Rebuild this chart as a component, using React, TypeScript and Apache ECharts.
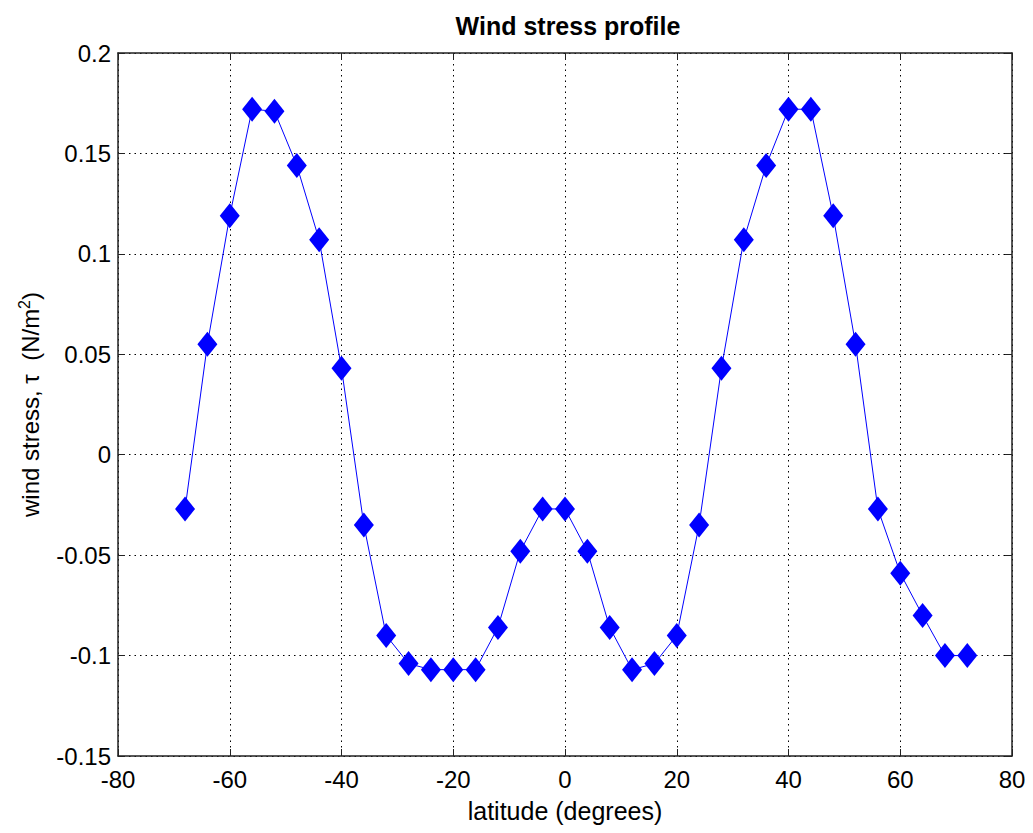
import React, { useEffect, useRef } from "react";
import * as echarts from "echarts";

const latitudes = [-68, -64, -60, -56, -52, -48, -44, -40, -36, -32, -28, -24, -20, -16, -12, -8, -4, 0, 4, 8, 12, 16, 20, 24, 28, 32, 36, 40, 44, 48, 52, 56, 60, 64, 68, 72];
const stress = [-0.027, 0.055, 0.119, 0.172, 0.171, 0.144, 0.107, 0.043, -0.035, -0.090, -0.104, -0.107, -0.107, -0.107, -0.086, -0.048, -0.027, -0.027, -0.048, -0.086, -0.107, -0.104, -0.090, -0.035, 0.043, 0.107, 0.144, 0.172, 0.172, 0.119, 0.055, -0.027, -0.059, -0.080, -0.100, -0.100];

const FONT = "Liberation Sans, Arial, Helvetica, sans-serif";

export default function App() {
  const ref = useRef<HTMLDivElement>(null);
  useEffect(() => {
    if (!ref.current) return;
    const chart = echarts.init(ref.current, undefined, { renderer: "svg" });
    const axisLine = { show: true, onZero: false, lineStyle: { color: "#222", width: 1.5 } };
    const tick = { show: true, inside: true, length: 7, lineStyle: { color: "#222" } };
    const grid = { show: true, lineStyle: { type: [1.5, 4], color: "#000", width: 1 } };
    chart.setOption({
      animation: false,
      backgroundColor: "#fff",
      title: {
        text: "Wind stress profile",
        left: 563,
        textAlign: "center",
        top: 8,
        textStyle: { fontFamily: FONT, fontSize: 25, fontWeight: "bold", color: "#000" },
      },
      grid: { left: 118, right: 21, top: 53, bottom: 77, containLabel: false },
      xAxis: [
        {
          type: "value",
          min: -80,
          max: 80,
          interval: 20,
          name: "latitude (degrees)",
          nameLocation: "middle",
          nameGap: 42,
          nameTextStyle: { fontFamily: FONT, fontSize: 25, color: "#000" },
          axisLine,
          axisTick: tick,
          axisLabel: { fontFamily: FONT, fontSize: 24, color: "#000", margin: 11 },
          splitLine: grid,
        },
        {
          type: "value",
          position: "top",
          min: -80,
          max: 80,
          interval: 20,
          axisLine,
          axisTick: tick,
          axisLabel: { show: false },
          splitLine: { show: false },
        },
      ],
      yAxis: [
        {
          type: "value",
          min: -0.15,
          max: 0.2,
          interval: 0.05,
          name: "{a|wind stress, τ  (N/m}{s|2}{a|)}",
          nameLocation: "middle",
          nameGap: 74,
          nameTextStyle: {
            fontFamily: FONT,
            rich: {
              a: { fontFamily: FONT, fontSize: 24, color: "#000" },
              s: { fontFamily: FONT, fontSize: 16, color: "#000", verticalAlign: "top", padding: [0, 0, 12, 0] },
            },
          },
          axisLine,
          axisTick: tick,
          axisLabel: {
            fontFamily: FONT,
            fontSize: 24,
            color: "#000",
            margin: 7,
            formatter: (v: number) => String(Math.round(v * 100) / 100),
          },
          splitLine: grid,
        },
        {
          type: "value",
          position: "right",
          min: -0.15,
          max: 0.2,
          interval: 0.05,
          axisLine,
          axisTick: tick,
          axisLabel: { show: false },
          splitLine: { show: false },
        },
      ],
      series: [
        {
          type: "line",
          data: latitudes.map((x, i) => [x, stress[i]]),
          symbol: "diamond",
          symbolSize: [20, 25],
          itemStyle: { color: "#0000ff" },
          lineStyle: { color: "#0000ff", width: 1 },
          xAxisIndex: 0,
          yAxisIndex: 0,
        },
      ],
    });
    return () => chart.dispose();
  }, []);
  return <div ref={ref} style={{ position: "fixed", left: 0, top: 0, width: 1033, height: 833 }} />;
}
